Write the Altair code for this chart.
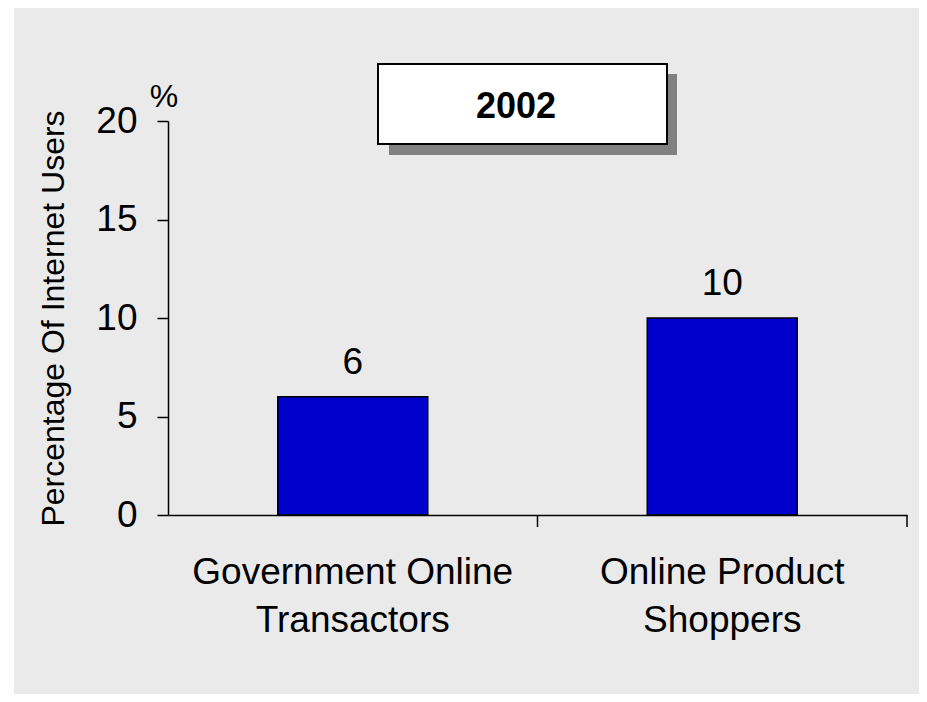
import altair as alt
import pandas as pd

categories = ["Government Online\nTransactors", "Online Product\nShoppers"]
values = [6, 10]
y_ticks = [0, 5, 10, 15, 20]
title_text = "2002"
y_title = "Percentage Of Internet Users"

df = pd.DataFrame({"cat": categories, "val": values})
one = pd.DataFrame({"a": [0]})

FONT = "Liberation Sans"
W, H = 739, 394

xscale = alt.Scale(domain=categories, paddingInner=0, paddingOuter=0)
yscale = alt.Scale(domain=[0, 20], nice=False)

bg = alt.Chart(one).mark_rect(fill="#EAEAEA", stroke=None).encode(
    x=alt.value(-154), x2=alt.value(760), y=alt.value(-113), y2=alt.value(580)
)

bars = alt.Chart(df).mark_bar(size=150, color="#0000CC", stroke="black", strokeWidth=1.5).encode(
    x=alt.X("cat:N", scale=xscale, sort=categories,
            axis=alt.Axis(title=None, labelAngle=0, ticks=False, domain=True,
                          domainColor="black", domainWidth=1.5,
                          labelFont=FONT, labelFontSize=37, labelColor="black",
                          labelPadding=39, labelLineHeight=48, labelLimit=600,
                          labelExpr="split(datum.label, '\\n')", zindex=1)),
    y=alt.Y("val:Q", scale=yscale,
            axis=alt.Axis(title=y_title, values=y_ticks, grid=False,
                          tickSize=11, tickColor="black", tickWidth=1.5,
                          domainColor="black", domainWidth=1.5,
                          labelFont=FONT, labelFontSize=37, labelColor="black",
                          labelPadding=20,
                          titleFont=FONT, titleFontSize=32, titleFontWeight="normal",
                          titleColor="black", titleX=-105, titleY=197,
                          titleAngle=270, titleAlign="center", titleBaseline="alphabetic",
                          titleLimit=800, zindex=1)),
)

xticks = alt.Chart(df).mark_rule(color="black", strokeWidth=1.5).encode(
    x=alt.X("cat:N", bandPosition=1, scale=xscale, sort=categories),
    y=alt.value(H), y2=alt.value(H + 12),
)

labels = alt.Chart(df).mark_text(font=FONT, fontSize=37, color="black",
                                 baseline="alphabetic", dy=-23).encode(
    x=alt.X("cat:N", scale=xscale, sort=categories),
    y=alt.Y("val:Q", scale=yscale),
    text=alt.Text("val:Q"),
)

pct = alt.Chart(one).mark_text(text="%", font=FONT, fontSize=32, color="black",
                               baseline="alphabetic", dy=-14).encode(
    x=alt.value(-4), y=alt.datum(20),
)

shadow = alt.Chart(one).mark_rect(fill="#808080").encode(
    x=alt.value(221), x2=alt.value(509), y=alt.value(-47), y2=alt.value(34)
)
box = alt.Chart(one).mark_rect(fill="white", stroke="black", strokeWidth=2).encode(
    x=alt.value(210), x2=alt.value(499), y=alt.value(-57), y2=alt.value(23)
)
boxtext = alt.Chart(one).mark_text(text=title_text, font=FONT, fontSize=36,
                                   fontWeight="bold", color="black",
                                   baseline="alphabetic", align="center").encode(
    x=alt.value(348), y=alt.value(-3)
)

chart = alt.layer(bg, bars, xticks, labels, pct, shadow, box, boxtext).properties(
    width=W, height=H,
    autosize=alt.AutoSizeParams(type="none"),
    padding={"left": 160, "top": 113, "right": 12, "bottom": 179},
    background="white",
).configure_view(stroke=None)

chart.save("out.html", embed_options={"renderer": "svg", "actions": False})
